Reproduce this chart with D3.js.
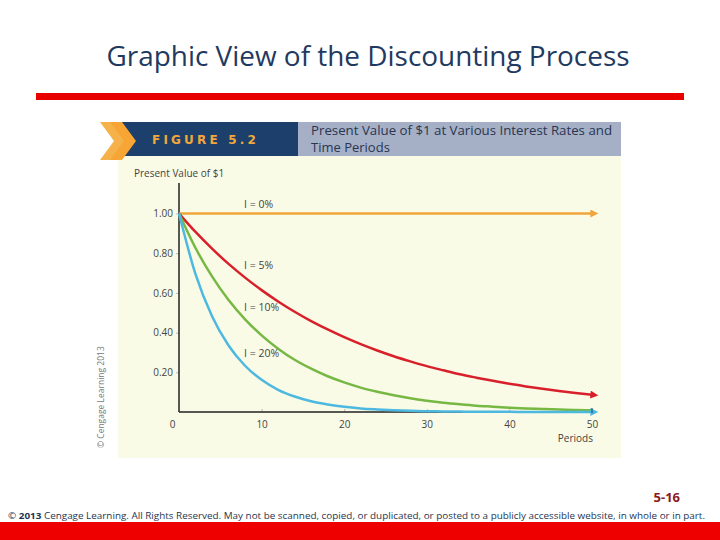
<!DOCTYPE html>
<html>
<head>
<meta charset="utf-8">
<script src="https://cdn.jsdelivr.net/npm/d3@7"></script>
<style>
html,body{margin:0;padding:0;background:#fff;}
svg{display:block;}
</style>
</head>
<body>
<svg id="chart" width="720" height="540"></svg>
<script>
// ---- data ----
const periods = [0,2,4,6,8,10,12,14,16,18,20,22,24,26,28,30,32,34,36,38,40,42,44,46,48,50];
const pv0  = [1,1,1,1,1,1,1,1,1,1,1,1,1,1,1,1,1,1,1,1,1,1,1,1,1,1];
const pv5  = [1.000,0.907,0.823,0.746,0.677,0.614,0.557,0.505,0.458,0.416,0.377,0.342,0.310,0.281,0.255,0.231,0.210,0.190,0.173,0.157,0.142,0.129,0.117,0.106,0.096,0.087];
const pv10 = [1.000,0.826,0.683,0.564,0.467,0.386,0.319,0.263,0.218,0.180,0.149,0.123,0.102,0.084,0.069,0.057,0.047,0.039,0.032,0.027,0.022,0.018,0.015,0.012,0.010,0.009];
const pv20 = [1.000,0.694,0.482,0.335,0.233,0.162,0.112,0.078,0.054,0.038,0.026,0.018,0.013,0.009,0.006,0.004,0.003,0.002,0.001,0.001,0.001,0.000,0.000,0.000,0.000,0.000];
const seriesNames = ["I = 0%","I = 5%","I = 10%","I = 20%"];
const yTicks = [0.20,0.40,0.60,0.80,1.00];
const xTicks = [0,10,20,30,40,50];

const svg = d3.select("#chart");

// slide title
svg.append("text").attr("x",368).attr("y",66).attr("text-anchor","middle")
  .attr("font-family","Open Sans, Lato, sans-serif").attr("font-size",27.5)
  .attr("fill","#1f3a60").attr("textLength",523).attr("lengthAdjust","spacingAndGlyphs")
  .text("Graphic View of the Discounting Process");
svg.append("rect").attr("x",36).attr("y",93).attr("width",648).attr("height",7).attr("fill","#e80000");

// figure panel
svg.append("rect").attr("x",118).attr("y",155).attr("width",503).attr("height",303).attr("fill","#fafbe7");
svg.append("rect").attr("x",118).attr("y",122).attr("width",180).attr("height",34).attr("fill","#1d3f6b");
svg.append("rect").attr("x",298).attr("y",122).attr("width",323).attr("height",34).attr("fill","#a5b0c6");
// chevrons
const chev = (x,c)=>svg.append("path").attr("d",`M${x},122 L${x+12},122 L${x+26},141 L${x+12},160 L${x},160 L${x+14},141 Z`).attr("fill",c);
chev(100,"#f6b24a");
chev(110,"#f7a535");
svg.append("text").attr("x",152).attr("y",144).attr("font-family","DejaVu Sans, sans-serif").attr("font-weight","bold")
  .attr("font-size",12).attr("letter-spacing",3.2).attr("fill","#f2a73b").text("FIGURE 5.2");
svg.append("text").attr("x",311).attr("y",135).attr("font-family","Open Sans, sans-serif").attr("font-size",13)
  .attr("fill","#2a3550").attr("textLength",301).attr("lengthAdjust","spacingAndGlyphs")
  .text("Present Value of $1 at Various Interest Rates and");
svg.append("text").attr("x",311).attr("y",152).attr("font-family","Open Sans, sans-serif").attr("font-size",13)
  .attr("fill","#2a3550").text("Time Periods");

// chart scales
const x = d3.scaleLinear().domain([0,50]).range([179,592]);
const y = d3.scaleLinear().domain([0,1]).range([412,213.5]);
const g = svg.append("g");

svg.append("text").attr("x",134).attr("y",177).attr("font-family","Open Sans, sans-serif").attr("font-size",10)
  .attr("fill","#444").text("Present Value of $1");

// y-axis labels
const yAxis = d3.axisLeft(y).tickValues(yTicks).tickFormat(d3.format(".2f")).tickSize(3).tickPadding(3);
const ya = g.append("g").attr("transform","translate(179,0)").call(yAxis);
ya.select(".domain").remove();
ya.selectAll("line").attr("stroke","#bbb");
ya.selectAll("text").attr("font-family","Open Sans, sans-serif").attr("font-size",10).attr("fill","#444");

// x-axis labels
const xAxis = d3.axisBottom(x).tickValues(xTicks).tickSize(-3).tickPadding(9);
const xa = g.append("g").attr("transform","translate(0,412)").call(xAxis);
xa.select(".domain").remove();
xa.selectAll("line").attr("stroke","#bbb");
xa.selectAll(".tick").filter(d=>d===0).select("line").remove();
xa.selectAll(".tick").filter(d=>d===0).select("text").attr("dx",-7);
xa.selectAll("text").attr("font-family","Open Sans, sans-serif").attr("font-size",10).attr("fill","#444");

svg.append("text").attr("x",593).attr("y",442).attr("text-anchor","end").attr("font-family","Open Sans, sans-serif")
  .attr("font-size",10).attr("fill","#444").text("Periods");

// axis lines
g.append("line").attr("x1",179).attr("x2",179).attr("y1",183).attr("y2",412).attr("stroke","#222").attr("stroke-width",1.5);
g.append("line").attr("x1",179).attr("x2",593).attr("y1",412).attr("y2",412).attr("stroke","#222").attr("stroke-width",1.5);

// arrow markers
const defs = svg.append("defs");
const colors = ["#f0a53a","#d8202a","#76b843","#4db8e0"];
colors.forEach((c,i)=>{
  defs.append("marker").attr("id","arr"+i).attr("viewBox","0 0 10 10").attr("refX",2).attr("refY",5)
    .attr("markerWidth",4).attr("markerHeight",3.2).attr("orient","auto").attr("markerUnits","strokeWidth")
    .append("path").attr("d","M0,0 L10,5 L0,10 Z").attr("fill",c);
});

const line = d3.line().x(d=>x(d[0])).y(d=>y(d[1])).curve(d3.curveMonotoneX);
const allSeries = [pv0,pv5,pv10,pv20];
allSeries.forEach((vals,i)=>{
  const pts = periods.map((p,j)=>[p,vals[j]]);
  g.append("path").datum(pts).attr("d",line).attr("fill","none").attr("stroke",colors[i])
    .attr("stroke-width",2.5).attr("marker-end",(i===0||i===1||i===3)?`url(#arr${i})`:null);
});
// tick at end of x axis
g.append("line").attr("x1",592).attr("x2",592).attr("y1",408).attr("y2",413).attr("stroke","#1d3f6b").attr("stroke-width",1);

// series labels
const labelY = [208,269,311,357];
seriesNames.forEach((n,i)=>{
  svg.append("text").attr("x",244).attr("y",labelY[i]).attr("font-family","Open Sans, sans-serif")
    .attr("font-size",10.5).attr("fill","#444").text(n);
});

// copyright vertical
svg.append("text").attr("transform","translate(104,448) rotate(-90)").attr("font-family","Open Sans, sans-serif")
  .attr("font-size",8.5).attr("fill","#777").text("© Cengage Learning 2013");

// footer
svg.append("text").attr("x",680).attr("y",502).attr("text-anchor","end").attr("font-family","Open Sans, sans-serif")
  .attr("font-weight","bold").attr("font-size",13).attr("fill","#8b1a1a").text("5-16");
const ft = svg.append("text").attr("x",8).attr("y",519).attr("font-family","Open Sans, sans-serif")
  .attr("font-size",9.5).attr("fill","#1f3550").attr("textLength",697).attr("lengthAdjust","spacingAndGlyphs");
ft.append("tspan").text("© ");
ft.append("tspan").attr("font-weight","bold").text("2013");
ft.append("tspan").text(" Cengage Learning. All Rights Reserved. May not be scanned, copied, or duplicated, or posted to a publicly accessible website, in whole or in part.");
svg.append("rect").attr("x",0).attr("y",522).attr("width",720).attr("height",18).attr("fill","#ee0000");
</script>
</body>
</html>
